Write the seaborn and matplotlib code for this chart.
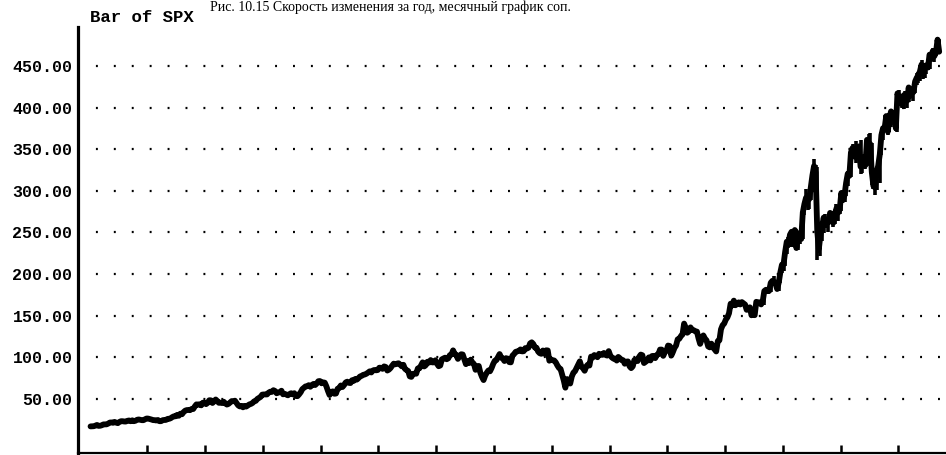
import numpy as np
import pandas as pd
import matplotlib
matplotlib.use("Agg")
import matplotlib.pyplot as plt
import seaborn as sns

# ---------------- data ----------------
title = "Bar of SPX"
caption = "Рис. 10.15 Скорость изменения за год, месячный график соп."
y_ticks = [50, 100, 150, 200, 250, 300, 350, 400, 450]
x_tick_years = [1953, 1956, 1959, 1962, 1965, 1968, 1971, 1974, 1977, 1980, 1983, 1986, 1989, 1992]
start_year = 1950

# monthly closes, Jan 1950 .. Feb 1994
spx_close = [
    17.05, 17.22, 17.29, 17.96, 18.78, 17.69, 17.84, 18.42, 19.45, 19.53, 19.51, 20.41,  # 1950
    21.66, 21.80, 21.40, 22.43, 21.52, 20.96, 22.40, 23.28, 23.26, 22.94, 22.88, 23.77,  # 1951
    24.14, 23.26, 24.37, 23.32, 23.86, 24.96, 25.40, 25.03, 24.54, 24.52, 25.66, 26.57,  # 1952
    26.38, 25.90, 25.29, 24.62, 24.54, 24.14, 24.75, 23.32, 23.35, 24.54, 24.76, 24.81,  # 1953
    26.08, 26.15, 26.94, 28.26, 29.19, 29.21, 30.88, 29.83, 32.31, 31.68, 34.24, 35.98,  # 1954
    36.63, 36.76, 36.58, 37.96, 37.91, 41.03, 43.52, 43.18, 43.67, 42.34, 45.51, 45.48,  # 1955
    43.82, 45.34, 48.48, 48.38, 45.20, 46.97, 49.39, 47.51, 45.35, 45.58, 45.08, 46.67,  # 1956
    44.72, 43.26, 44.11, 45.74, 47.43, 47.37, 47.91, 45.22, 42.42, 41.06, 41.72, 39.99,  # 1957
    41.70, 40.84, 42.10, 43.44, 44.09, 45.24, 47.19, 47.75, 50.06, 51.33, 52.48, 55.21,  # 1958
    55.42, 55.41, 55.44, 57.59, 58.68, 58.47, 60.51, 59.60, 56.88, 57.52, 58.28, 59.89,  # 1959
    55.61, 56.12, 55.34, 54.37, 55.83, 56.92, 55.51, 56.96, 53.52, 53.39, 55.54, 58.11,  # 1960
    61.78, 63.44, 65.06, 65.31, 66.56, 64.64, 66.76, 68.07, 66.73, 68.62, 71.32, 71.55,  # 1961
    68.84, 69.96, 69.55, 65.24, 59.63, 54.75, 58.23, 59.12, 56.27, 56.52, 62.26, 63.10,  # 1962
    66.20, 64.29, 66.57, 69.80, 70.80, 69.37, 69.13, 72.50, 71.70, 74.01, 73.23, 75.02,  # 1963
    77.04, 77.80, 78.98, 79.46, 80.37, 81.69, 83.18, 81.83, 84.18, 84.86, 84.42, 84.75,  # 1964
    87.56, 87.43, 86.16, 89.11, 88.42, 84.12, 85.25, 87.17, 89.96, 92.42, 91.61, 92.43,  # 1965
    92.88, 91.22, 89.23, 91.06, 86.13, 84.74, 83.60, 77.10, 76.56, 80.20, 80.45, 80.33,  # 1966
    86.61, 86.78, 90.20, 94.01, 89.08, 90.64, 94.75, 93.64, 96.71, 93.90, 94.00, 96.47,  # 1967
    92.24, 89.36, 90.20, 97.59, 98.68, 99.58, 97.74, 98.86, 102.67, 103.41, 108.37, 103.86,  # 1968
    103.01, 98.13, 101.51, 103.69, 103.46, 97.71, 91.83, 95.51, 93.12, 97.24, 93.81, 92.06,  # 1969
    85.02, 89.50, 89.63, 81.52, 76.55, 72.72, 78.05, 81.52, 84.21, 83.25, 87.20, 92.15,  # 1970
    95.88, 96.75, 100.31, 103.95, 99.63, 98.70, 95.58, 99.03, 98.34, 94.23, 93.99, 102.09,  # 1971
    103.94, 106.57, 107.20, 107.67, 109.53, 107.14, 107.39, 111.09, 110.55, 111.58, 116.67, 118.05,  # 1972
    116.03, 111.68, 111.52, 106.97, 104.95, 104.26, 108.22, 104.25, 108.43, 108.29, 95.96, 97.55,  # 1973
    96.57, 96.22, 93.98, 90.31, 87.28, 86.00, 79.31, 72.15, 63.54, 73.90, 69.97, 68.56,  # 1974
    76.98, 81.59, 83.36, 87.30, 91.15, 95.19, 88.75, 86.88, 83.87, 89.04, 91.24, 90.19,  # 1975
    100.86, 99.71, 102.77, 101.64, 100.18, 104.28, 103.44, 102.91, 105.24, 102.90, 102.10, 107.46,  # 1976
    102.03, 99.82, 98.42, 98.44, 96.12, 100.48, 98.85, 96.77, 96.53, 92.34, 94.83, 95.10,  # 1977
    89.25, 87.04, 89.21, 96.83, 97.24, 95.53, 100.68, 103.29, 102.54, 93.15, 94.70, 96.11,  # 1978
    99.93, 96.28, 101.59, 101.76, 99.08, 102.91, 103.81, 109.32, 109.32, 101.82, 106.16, 107.94,  # 1979
    114.16, 113.66, 102.09, 106.29, 111.24, 114.24, 121.67, 122.38, 125.46, 127.47, 140.52, 135.76,  # 1980
    129.55, 131.27, 136.00, 132.81, 132.59, 131.21, 130.92, 122.79, 116.18, 121.89, 126.35, 122.55,  # 1981
    120.40, 113.11, 111.96, 116.44, 111.88, 109.61, 107.09, 119.51, 120.42, 133.71, 138.54, 140.64,  # 1982
    145.30, 148.06, 152.96, 164.42, 162.39, 168.11, 162.56, 164.40, 166.07, 163.55, 166.40, 164.93,  # 1983
    163.41, 157.06, 159.18, 160.05, 150.55, 153.18, 150.66, 166.68, 166.10, 166.09, 163.58, 167.24,  # 1984
    179.63, 181.18, 180.66, 179.83, 189.55, 191.85, 190.92, 188.63, 182.08, 189.82, 202.17, 211.28,  # 1985
    211.78, 226.92, 238.90, 235.52, 247.35, 250.84, 236.12, 252.93, 231.32, 243.98, 249.22, 242.17,  # 1986
    274.08, 284.20, 291.70, 288.36, 290.10, 304.00, 318.66, 329.80, 321.83, 251.79, 230.30, 247.08,  # 1987
    257.07, 267.82, 258.89, 261.33, 262.16, 273.50, 272.02, 261.52, 271.91, 278.97, 273.70, 277.72,  # 1988
    297.47, 288.86, 294.87, 309.64, 320.52, 317.98, 346.08, 351.45, 349.15, 340.36, 345.99, 353.40,  # 1989
    329.08, 331.89, 339.94, 330.80, 361.23, 358.02, 356.15, 322.56, 306.05, 304.00, 322.22, 330.22,  # 1990
    343.93, 367.07, 375.22, 375.35, 389.83, 371.16, 387.81, 395.43, 387.86, 392.45, 375.22, 417.09,  # 1991
    408.79, 412.70, 403.69, 414.95, 415.35, 408.14, 424.21, 414.03, 417.80, 418.68, 431.35, 435.71,  # 1992
    438.78, 443.38, 451.67, 440.19, 450.19, 450.53, 448.13, 463.56, 458.93, 467.83, 461.79, 466.45,  # 1993
    481.61, 467.14,  # 1994
]

# monthly highs / lows, Jan 1985 .. Feb 1994
bars_start_year = 1985
spx_high = [
    180.3, 183.4, 183.9, 183.6, 190.3, 192.9, 197.3, 192.6, 189.1, 191.0, 203.4, 212.0,
    213.0, 227.9, 240.6, 245.0, 248.0, 251.9, 253.2, 254.1, 254.2, 244.6, 250.0, 254.9,
    280.9, 286.0, 301.9, 297.3, 296.4, 308.2, 321.8, 337.9, 330.6, 328.3, 256.6, 251.0,
    263.5, 268.6, 272.4, 264.8, 263.8, 276.0, 275.4, 273.0, 272.9, 283.7, 279.9, 282.9,
    297.7, 300.9, 299.2, 310.5, 321.4, 328.0, 347.7, 356.0, 353.9, 360.4, 347.1, 354.5,
    360.6, 336.1, 344.5, 344.3, 361.9, 368.0, 369.8, 357.0, 326.1, 315.9, 323.0, 331.2,
    344.0, 371.1, 376.9, 391.3, 391.4, 390.9, 391.4, 397.5, 396.8, 394.3, 398.5, 418.3,
    420.8, 416.1, 413.0, 417.2, 420.0, 417.5, 425.5, 424.8, 423.3, 420.2, 431.4, 441.3,
    442.6, 449.6, 456.7, 452.0, 452.4, 453.1, 451.0, 464.0, 463.4, 471.5, 468.6, 471.1,
    482.9, 482.8,
]
spx_low = [
    163.4, 177.5, 176.5, 177.9, 178.4, 185.6, 189.6, 184.8, 180.6, 179.9, 189.8, 200.9,
    203.5, 209.6, 224.4, 231.2, 232.6, 238.6, 233.0, 233.7, 228.8, 229.4, 235.8, 241.2,
    242.0, 271.5, 281.3, 276.7, 278.2, 288.6, 302.4, 315.0, 306.6, 216.5, 225.8, 221.2,
    240.2, 249.4, 255.6, 255.2, 250.8, 260.8, 263.3, 256.0, 260.3, 271.1, 263.7, 272.5,
    275.3, 287.0, 286.9, 293.5, 306.3, 315.6, 316.7, 342.5, 341.6, 333.7, 337.5, 340.6,
    320.8, 322.0, 331.4, 326.8, 329.5, 356.2, 353.2, 307.2, 302.0, 294.5, 301.6, 321.3,
    309.3, 342.5, 361.5, 370.2, 372.6, 367.6, 370.4, 377.1, 383.6, 379.0, 371.4, 371.2,
    406.9, 404.6, 399.3, 398.8, 409.5, 400.0, 406.6, 411.6, 412.5, 407.9, 417.8, 427.6,
    429.0, 431.7, 440.8, 434.5, 436.1, 440.9, 445.0, 446.7, 455.4, 458.0, 454.4, 461.4,
    465.0, 464.3,
]

# ---------------- figure ----------------
sns.set_theme(style="white")
plt.rcParams["lines.scale_dashes"] = False
plt.rcParams["font.family"] = ["Liberation Mono", "DejaVu Sans"]

W, H = 946, 455
fig = plt.figure(figsize=(W / 100, H / 100), dpi=100)
fig.patch.set_facecolor("white")
ax = fig.add_axes([78 / W, 2 / H, 868 / W, 426 / H])
ax.set_facecolor("white")

months = np.arange(len(spx_close))
x_close = start_year + (months + 0.5) / 12.0
df = pd.DataFrame({"t": x_close, "close": spx_close})

bar_months = np.arange(len(spx_high))
x_bars = bars_start_year + (bar_months + 0.5) / 12.0
ax.vlines(x_bars, spx_low, spx_high, color="black", linewidth=2.6, zorder=3)

sns.lineplot(data=df, x="t", y="close", ax=ax, color="black", linewidth=4.2,
             estimator=None, sort=True, zorder=4)

ax.set_xlim(1949.39, 1994.48)
ax.set_ylim(-14.9, 496.8)

ax.set_yticks(y_ticks)
ax.set_yticklabels([f"{v:.2f}" for v in y_ticks], fontsize=12, fontweight="bold",
                   family="Liberation Mono")
ax.set_xticks(x_tick_years)
ax.set_xticklabels([])
ax.tick_params(axis="y", length=0, pad=4, colors="black")
ax.tick_params(axis="x", direction="in", length=6, width=1.8, colors="black", bottom=True)
ax.set_xlabel("")
ax.set_ylabel("")

ax.grid(axis="y", color="black", linestyle=(0, (1.4, 11.5)), linewidth=1.6)
ax.grid(axis="x", visible=False)
ax.set_axisbelow(True)

for side in ("top", "right"):
    ax.spines[side].set_visible(False)
ax.spines["left"].set_linewidth(2.3)
ax.spines["bottom"].set_linewidth(1.6)
ax.spines["left"].set_color("black")
ax.spines["bottom"].set_color("black")

fig.text(90 / W, 1 - 18 / H, title, fontsize=12.5, fontweight="bold",
         family="Liberation Mono", va="center", ha="left", color="black")
fig.text(210 / W, 1 - 0.5 / H, caption, fontsize=10, family="Liberation Serif",
         va="top", ha="left", color="black")

fig.savefig("out.png", dpi=100, facecolor="white")
